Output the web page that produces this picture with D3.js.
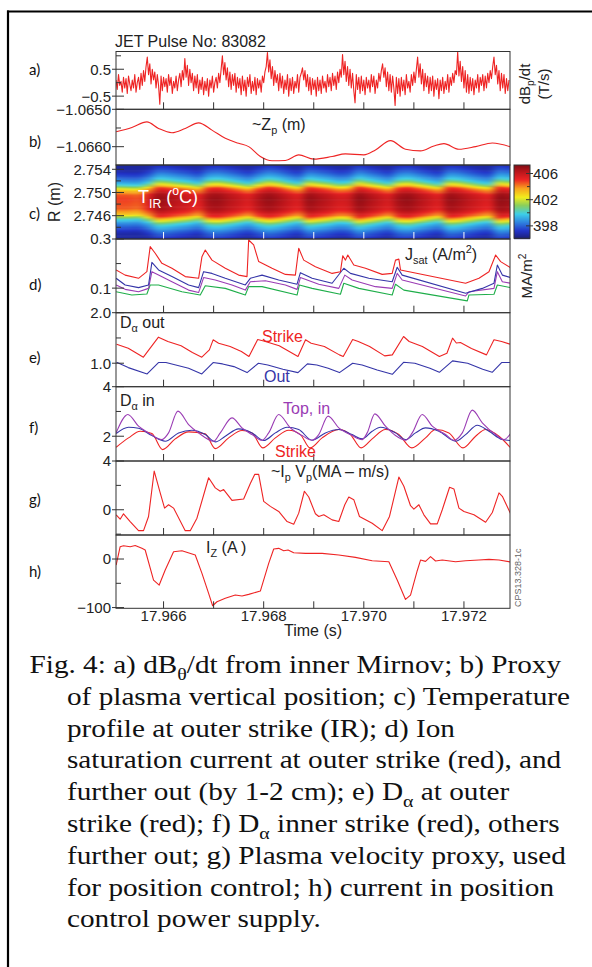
<!DOCTYPE html>
<meta charset="utf-8">
<style>
body { margin: 0; background: #fff; }
svg { display: block; font-family: "Liberation Sans", Arial, sans-serif; }
.tick-label { font-size: 15px; fill: #222; }
.panel-letter { font-family: Lato, "Open Sans", sans-serif; font-size: 15px; fill: #111; }
.caption { font-family: "Liberation Serif", "Times New Roman", serif; font-size: 25px; fill: #111; }
.frame { fill: none; stroke: #333; stroke-width: 1; }
.trace { fill: none; stroke-width: 1.1; stroke-linejoin: round; }
</style>
<svg width="592" height="967"></svg>
<script src="https://cdn.jsdelivr.net/npm/d3@7"></script>
<script>

// time is stored in ms after T0 (seconds)
var T0 = 17.965;
var timeTicksMs = [1, 2, 3, 4, 5, 6, 7];
var timeLabelsMs = [1, 3, 5, 7];

// a) dBp/dt, one value every 0.025 ms from 0.05 ms (one row = 1 ms)
var aStart = 0.05, aStep = 0.025;
var aDbdt = [
  0.1,-0.25,0.3,-0.1,0.05,-0.35,0.2,-0.2,0.15,-0.4,0.25,-0.05,-0.3,0.1,-0.2,0.3,-0.35,0.0,0.2,-0.25,
  0.35,-0.1,0.45,0.05,0.6,0.95,0.3,0.7,-0.05,0.5,0.1,0.4,-0.2,0.3,-0.1,-0.8,0.25,-0.3,0.2,-0.15,
  0.15,-0.35,0.3,-0.1,0.2,-0.4,0.05,-0.2,0.25,-0.3,0.1,0.35,-0.15,0.45,0.1,0.9,0.2,0.65,-0.1,0.5,
  0.0,0.35,-0.3,0.25,-0.2,0.3,-0.4,0.1,-0.25,0.2,-0.45,0.05,-0.3,0.15,-0.5,0.1,-0.2,0.25,-0.35,0.0,
  0.2,-0.2,0.35,0.0,0.5,1.0,0.3,0.75,0.1,0.55,-0.15,0.4,-0.25,0.3,-0.1,0.35,-0.35,0.2,-0.2,0.15,
  -0.45,0.25,-0.3,0.1,-0.5,0.2,-0.15,0.3,-0.4,0.05,-0.3,0.2,-0.45,0.15,-0.2,0.1,-0.35,0.25,0.0,0.4,
  0.6,1.12,0.4,0.85,0.15,0.6,-0.1,0.45,0.0,0.3,-0.3,0.35,-0.2,0.25,-0.4,0.1,-0.25,0.3,-0.5,0.15,
  -0.3,0.2,-0.4,0.05,-0.2,0.3,-0.35,0.2,0.35,0.55,0.1,0.45,-0.15,0.3,-0.3,0.2,-0.45,0.15,-0.25,0.1,
  -0.5,0.2,-0.3,0.1,-0.4,0.25,-0.2,0.05,-0.35,0.3,-0.15,0.2,-0.3,0.35,-0.1,0.25,-0.25,0.4,0.0,0.5,
  0.2,1.05,0.3,0.8,0.05,0.6,-0.1,0.5,-0.2,0.35,-0.3,-0.75,0.3,-0.25,0.2,-0.4,0.25,-0.3,0.1,-0.45,
  0.2,-0.2,0.1,-0.35,0.3,-0.15,0.25,-0.4,0.1,-0.2,0.35,0.05,0.45,0.7,0.2,0.55,-0.15,0.4,-0.3,0.3,
  -0.35,0.25,-0.2,-0.85,0.2,-0.4,0.15,-0.5,0.2,-0.3,0.1,-0.45,0.3,-0.2,0.05,-0.35,0.3,-0.1,0.4,0.0,
  0.5,0.95,0.2,0.7,-0.05,0.5,-0.3,0.35,-0.15,0.25,-0.4,0.2,-0.3,0.25,-0.5,0.1,-0.25,0.15,-0.6,0.1,
  -0.3,0.2,-0.4,0.05,-0.25,0.3,-0.35,0.2,-0.1,0.35,0.0,0.45,0.3,1.15,0.25,0.8,0.05,0.6,-0.2,0.45,
  -0.35,0.3,-0.4,0.2,-0.3,0.15,-0.45,0.1,-0.2,0.3,-0.35,0.2,-0.1,0.3,-0.3,0.25,-0.2,0.35,0.0,0.45,
  0.15,0.6,0.95,0.3,0.65,-0.05,0.45,-0.3,0.35,-0.2,0.3,-0.4,0.15,-0.3,0.1
];

// b) ~Zp (m)
var bZp = [[0.053,-1.065601],[0.367,-1.065486],[0.667,-1.065336],[0.9,-1.065512],[1.167,-1.065627],
  [1.433,-1.065512],[1.7,-1.065362],[1.967,-1.065557],[2.233,-1.065777],[2.5,-1.065910],[2.7,-1.065998],
  [2.933,-1.066263],[3.167,-1.066378],[3.433,-1.066369],[3.7,-1.066219],[4.0,-1.066334],[4.367,-1.066263],
  [4.633,-1.066193],[5.0,-1.066219],[5.233,-1.066087],[5.533,-1.065839],[5.833,-1.066069],[6.133,-1.066113],
  [6.4,-1.065981],[6.6,-1.065919],[6.9,-1.066069],[7.233,-1.065998],[7.567,-1.065901],[7.933,-1.066007]];

// c) IR temperature: one entry per 0.2 ms column
// core temperature, and R of the upper / lower 402 degC (yellow) edge
var tirColStep = 0.2;
var tirCore = [404.8,404.8,404.6,405.5,407.0,406.6,406.2,405.9,405.3,406.8,406.9,406.4,406.0,405.5,406.5,407.0,
  406.6,406.0,405.5,407.0,406.6,406.2,405.7,405.8,407.1,406.6,406.1,405.6,406.8,407.0,406.5,406.0,405.5,407.0,
  406.7,406.2,405.8,405.4,407.1,406.8];
var tirTop = [2.75106,2.7510,2.7510,2.75123,2.75164,2.75158,2.75146,2.75135,2.75117,2.75158,2.75164,2.75152,
  2.75135,2.75117,2.75146,2.7517,2.75158,2.75135,2.75117,2.75164,2.75152,2.75141,2.75123,2.75129,2.7517,2.75152,
  2.75135,2.75117,2.75158,2.75164,2.75146,2.75129,2.75112,2.75164,2.75158,2.75141,2.75123,2.75112,2.7517,2.75158];
var tirBot = [2.74564,2.74564,2.7457,2.74542,2.74502,2.74507,2.74519,2.7453,2.74547,2.74502,2.74496,2.74507,
  2.74524,2.74542,2.74513,2.74496,2.74507,2.74524,2.74542,2.74496,2.74507,2.74519,2.74536,2.7453,2.7449,2.74507,
  2.74524,2.74542,2.74502,2.74496,2.74513,2.7453,2.74547,2.74496,2.74502,2.74519,2.74536,2.74547,2.7449,2.74502];
// radial profile: position relative to band (yellow edges at +-1), fraction between floor and core
var tirFloor = 396.5;
var tirProfPos = [-2.6,-2.0,-1.65,-1.3,-1.15,-1.0,-0.88,-0.75,-0.4,0.2,0.45,0.75,0.88,1.0,1.15,1.3,1.65,2.0,2.6];
var tirProfFrac = [0,0.03,0.14,0.29,0.38,0.52,0.66,0.81,0.96,1.0,0.97,0.81,0.66,0.52,0.38,0.29,0.14,0.03,0];
var cbarTicks = [406, 402, 398];
var cbarMinor = [404, 400];

// d) Jsat (MA/m2)
var dRed = [[0.053,0.174],[0.233,0.153],[0.5,0.140],[0.667,0.167],[0.733,0.269],[0.833,0.242],[0.967,0.201],
  [1.167,0.181],[1.433,0.147],[1.7,0.140],[1.767,0.228],[1.833,0.255],[1.967,0.214],[2.233,0.181],[2.5,0.153],
  [2.667,0.147],[2.7,0.296],[2.8,0.276],[2.9,0.208],[3.167,0.181],[3.433,0.156],[3.633,0.153],[3.7,0.262],
  [3.8,0.214],[4.033,0.187],[4.367,0.160],[4.533,0.167],[4.58,0.232],[4.633,0.214],[4.68,0.235],[4.8,0.194],
  [5.033,0.181],[5.367,0.156],[5.567,0.160],[5.633,0.214],[5.7,0.218],[5.733,0.174],[7.033,0.120],[7.3,0.140],
  [7.5,0.167],[7.633,0.235],[7.733,0.208],[7.933,0.183]];
var dBlue = [[0.053,0.140],[0.233,0.113],[0.5,0.102],[0.7,0.113],[0.767,0.205],[0.9,0.174],[1.167,0.147],
  [1.5,0.113],[1.7,0.102],[1.8,0.167],[1.967,0.160],[2.233,0.140],[2.633,0.113],[2.733,0.140],[2.967,0.153],
  [3.3,0.133],[3.667,0.116],[3.733,0.163],[3.967,0.140],[4.367,0.120],[4.6,0.181],[4.733,0.160],[5.1,0.140],
  [5.567,0.126],[5.667,0.185],[5.767,0.153],[7.033,0.079],[7.367,0.099],[7.6,0.120],[7.667,0.194],[7.767,0.153],
  [7.933,0.143]];
var dPurple = [[0.053,0.113],[0.233,0.095],[0.5,0.085],[0.7,0.099],[0.767,0.167],[0.9,0.153],[1.167,0.126],
  [1.5,0.092],[1.7,0.082],[1.8,0.143],[2.033,0.133],[2.367,0.113],[2.633,0.092],[2.733,0.126],[3.033,0.130],
  [3.433,0.113],[3.667,0.095],[3.733,0.143],[4.1,0.116],[4.5,0.099],[4.62,0.153],[4.767,0.133],[5.233,0.106],
  [5.567,0.099],[5.667,0.160],[5.767,0.133],[7.033,0.068],[7.1,0.085],[7.6,0.099],[7.667,0.167],[7.767,0.126],
  [7.933,0.120]];
var dGreen = [[0.053,0.085],[0.367,0.072],[0.667,0.076],[0.733,0.113],[0.9,0.113],[1.367,0.085],[1.733,0.072],
  [1.833,0.110],[2.233,0.099],[2.633,0.072],[2.7,0.106],[2.967,0.106],[3.667,0.072],[3.713,0.113],[3.967,0.099],
  [4.533,0.075],[4.6,0.120],[4.9,0.099],[5.567,0.072],[5.633,0.116],[5.8,0.092],[7.067,0.048],[7.1,0.072],
  [7.6,0.075],[7.667,0.113],[7.933,0.102]];

// e) D-alpha outer
var eStrike = [[0.062,1.377],[0.295,1.298],[0.597,1.119],[0.898,1.516],[1.086,1.430],[1.35,1.344],[1.576,1.211],
  [1.764,1.119],[1.915,1.264],[1.99,1.463],[2.1,1.397],[2.33,1.331],[2.555,1.231],[2.706,1.132],[2.88,1.47],
  [3.0,1.44],[3.31,1.344],[3.685,1.132],[3.836,1.463],[3.948,1.397],[4.212,1.331],[4.513,1.165],[4.589,1.132],
  [4.777,1.47],[4.89,1.43],[5.116,1.331],[5.417,1.145],[5.569,1.165],[5.794,1.529],[5.906,1.43],[6.17,1.331],
  [6.509,1.132],[6.66,1.198],[6.773,1.496],[6.848,1.40],[6.93,1.41],[7.15,1.29],[7.45,1.165],[7.6,1.463],
  [7.752,1.43],[7.918,1.377]];
var eOut = [[0.062,1.019],[0.295,0.913],[0.672,0.787],[0.898,1.013],[1.048,1.013],[1.5,0.9],[1.764,0.787],
  [1.99,1.013],[2.178,0.986],[2.405,0.933],[2.668,0.814],[2.894,0.999],[3.082,0.966],[3.383,0.88],[3.685,0.814],
  [3.873,0.986],[4.062,0.966],[4.288,0.9],[4.513,0.814],[4.777,0.999],[4.966,0.966],[5.267,0.867],[5.569,0.781],
  [5.794,1.019],[6.02,0.999],[6.321,0.9],[6.509,0.82],[6.773,1.046],[7.074,0.999],[7.375,0.88],[7.564,0.82],
  [7.752,1.013],[7.918,1.013]];

// f) D-alpha inner
var fTop = [[0.053,2.135],[0.287,2.877],[0.5,2.405],[0.7,2.135],[0.967,1.865],[1.1,2.135],[1.287,3.012],[1.5,2.472],
  [1.7,2.135],[2.0,1.798],[2.133,2.135],[2.367,2.742],[2.567,2.337],[2.767,2.067],[2.967,1.838],[3.1,2.135],
  [3.3,2.877],[3.533,2.337],[3.767,2.027],[3.967,1.838],[4.1,2.067],[4.287,2.810],[4.5,2.337],[4.767,2.027],
  [4.967,1.865],[5.067,2.135],[5.22,2.904],[5.433,2.405],[5.633,2.027],[5.833,1.838],[5.967,2.135],[6.167,2.877],
  [6.367,2.405],[6.633,2.067],[6.8,1.838],[6.967,2.135],[7.167,3.053],[7.367,2.540],[7.633,2.067],[7.8,1.865],
  [7.933,2.108]];
var fMid = [[0.053,2.108],[0.3,2.364],[0.5,2.324],[0.767,2.027],[1.033,1.798],[1.3,2.135],[1.567,2.243],[1.833,2.067],
  [2.033,1.771],[2.233,2.0],[2.5,2.297],[2.767,2.135],[3.0,1.825],[3.233,2.135],[3.467,2.364],[3.7,2.27],
  [3.967,1.838],[4.233,2.135],[4.5,2.27],[4.767,2.067],[4.967,1.892],[5.167,2.202],[5.333,2.364],[5.633,2.135],
  [5.833,1.865],[6.033,2.135],[6.233,2.337],[6.5,2.202],[6.833,1.798],[7.033,2.067],[7.267,2.445],[7.5,2.202],
  [7.767,1.865],[7.933,1.825]];
var fStrike = [[0.053,1.556],[0.3,1.933],[0.533,2.202],[0.767,2.108],[0.98,1.46],[1.233,1.892],[1.5,2.175],
  [1.833,2.094],[2.033,1.50],[2.3,1.933],[2.567,2.229],[2.767,2.135],[2.98,1.528],[3.233,1.933],[3.5,2.243],
  [3.733,2.067],[3.927,1.528],[4.167,1.933],[4.5,2.27],[4.733,2.067],[4.947,1.528],[5.167,1.892],[5.433,2.27],
  [5.7,2.067],[5.96,1.528],[6.233,1.933],[6.433,2.27],[6.7,2.135],[6.98,1.528],[7.233,2.0],[7.433,2.27],
  [7.7,2.0],[7.933,1.528]];

// g) ~Ip Vp
var gIpVp = [[0.053,-0.414],[0.133,-0.773],[0.2,-0.331],[0.333,-0.966],[0.5,-1.712],[0.6,-1.712],[0.7,-0.552],
  [0.813,3.176],[0.933,1.381],[1.02,0.138],[1.1,0.414],[1.2,0.138],[1.433,-1.712],[1.533,-1.712],[1.667,-0.69],
  [1.9,2.624],[2.033,1.795],[2.133,1.519],[2.2,1.657],[2.367,0.773],[2.6,0.884],[2.733,2.154],[2.82,2.9],
  [2.9,2.9],[3.0,0.69],[3.133,0.276],[3.3,-0.138],[3.467,-0.966],[3.6,-1.187],[3.7,-0.276],[3.813,1.519],
  [3.9,1.05],[4.033,-0.331],[4.1,-0.552],[4.2,-0.414],[4.367,-0.829],[4.5,-0.966],[4.62,0.414],[4.7,1.05],
  [4.8,0.829],[4.913,-0.552],[5.167,-1.105],[5.367,-1.712],[5.513,-0.552],[5.7,2.679],[5.8,1.933],[5.933,0.331],
  [6.0,0.055],[6.1,0.414],[6.2,-0.414],[6.333,-1.16],[6.467,-1.16],[6.567,0.0],[6.713,1.85],[6.8,1.712],
  [6.9,0.138],[7.0,-0.138],[7.2,-0.414],[7.433,-1.022],[7.567,-0.221],[7.7,1.381],[7.767,1.105],[7.933,-0.331]];

// h) Iz (A)
var hIz = [[0.053,-12.4],[0.133,25.4],[0.2,27.5],[0.333,25.4],[0.433,27.8],[0.567,22],[0.633,18.6],[0.8,-43.3],
  [0.913,-53.6],[1.033,-22.7],[1.2,15.1],[1.367,17.2],[1.633,8.2],[1.767,-29.6],[1.9,-70.8],[1.98,-96.2],
  [2.067,-88],[2.233,-81],[2.433,-74.2],[2.567,-76],[2.7,-72.8],[2.933,-66],[3.1,-8.9],[3.2,20.6],[3.3,22],
  [3.4,17.2],[3.487,18.6],[3.6,13],[3.833,11.7],[4.167,11.7],[4.5,8.2],[4.833,3.4],[5.167,-3.4],[5.5,-5.5],
  [5.667,-43.3],[5.833,-83.2],[5.933,-74.2],[6.067,-24.1],[6.133,-2.1],[6.233,-4.8],[6.333,4.8],[6.433,-4.1],
  [6.567,-2.1],[6.833,-5.5],[7.033,-3.4],[7.3,-2.1],[7.5,-0.7],[7.7,-2.1],[7.933,-6.2]];

var captionLines = [
  "Fig. 4: a) dB_{θ}/dt from inner Mirnov; b) Proxy",
  "of plasma vertical position; c) Temperature",
  "profile at outer strike (IR); d) Ion",
  "saturation current at outer strike (red), and",
  "further out (by 1-2 cm); e) D_{α} at outer",
  "strike (red); f) D_{α} inner strike (red), others",
  "further out; g) Plasma velocity proxy, used",
  "for position control; h) current in position",
  "control power supply."
];

var RED = "#ee2424", BLUE = "#3535a8", PURPLE = "#9a3cb4", GREEN = "#1fae4a";

var svg = d3.select("svg");

var x = d3.scaleLinear().domain([17.96505, 17.97292]).range([116, 510]);
function tx(ms) { return x(T0 + ms / 1000); }

var panels = [
  {key: "a", top: 51.5, bottom: 109.3, domain: [-0.99, 1.16], major: [0.5, -0.5], minor: [1.0, 0], fmt: ".1f", ly: 75},
  {key: "b", top: 109.3, bottom: 165, domain: [-1.06649, -1.0650], major: [-1.0650, -1.0660], minor: [-1.0655], fmt: ".4f", ly: 147},
  {key: "c", top: 165, bottom: 239, domain: [2.74198, 2.75474], major: [2.754, 2.750, 2.746], minor: [2.752, 2.748, 2.744], fmt: ".3f", ly: 219},
  {key: "d", top: 239, bottom: 312.7, domain: [0, 0.3], major: [0.3, 0.1], minor: [0.2], fmt: ".1f", ly: 290},
  {key: "e", top: 312.7, bottom: 386.7, domain: [0.535, 2.0], major: [2.0, 1.0], minor: [1.5], fmt: ".1f", ly: 363},
  {key: "f", top: 386.7, bottom: 461, domain: [1.0, 4.0], major: [4, 2], minor: [3], fmt: "d", ly: 433},
  {key: "g", top: 461, bottom: 535, domain: [-2.07, 4], major: [4, 0], minor: [2, -2], fmt: "d", ly: 505},
  {key: "h", top: 535, bottom: 608.3, domain: [-101.5, 49.5], major: [0, -100], minor: [-50], fmt: "d", ly: 577}
];
panels.forEach(function(p) {
  p.y = d3.scaleLinear().domain(p.domain).range([p.bottom, p.top]);
});
var P = {};
panels.forEach(function(p) { P[p.key] = p; });

// text with _{sub} and ^{sup}
function rich(sel, str, fs) {
  var parts = str.split(/(_\{[^}]*\}|\^\{[^}]*\})/).filter(function(s) { return s.length; });
  var shift = 0;
  parts.forEach(function(part) {
    var off = 0, txt = part, small = false;
    if (part[0] === "_" && part[1] === "{") { txt = part.slice(2, -1); off = 0.28 * fs; small = true; }
    else if (part[0] === "^" && part[1] === "{") { txt = part.slice(2, -1); off = -0.42 * fs; small = true; }
    var t = sel.append("tspan").text(txt).attr("dy", off - shift);
    if (small) t.attr("font-size", (0.68 * fs) + "px");
    shift = off;
  });
  return sel;
}
function label(str, xx, yy, fs, color, anchor, rotate) {
  var t = svg.append("text")
      .attr("font-size", fs + "px")
      .attr("fill", color || "#222")
      .attr("text-anchor", anchor || "start");
  if (rotate) t.attr("transform", "translate(" + xx + "," + yy + ") rotate(-90)");
  else t.attr("x", xx).attr("y", yy);
  return rich(t, str, fs);
}

var defs = svg.append("defs");
panels.forEach(function(p) {
  defs.append("clipPath").attr("id", "clip-" + p.key)
    .append("rect").attr("x", 116).attr("y", p.top).attr("width", 394).attr("height", p.bottom - p.top);
});
defs.append("filter").attr("id", "smear").attr("color-interpolation-filters", "sRGB")
  .attr("x", "-5%").attr("y", "-5%").attr("width", "110%").attr("height", "110%")
  .append("feGaussianBlur").attr("stdDeviation", "4.5 0.6");

// outer border
svg.append("line").attr("x1", 7).attr("x2", 592).attr("y1", 11.5).attr("y2", 11.5).attr("stroke", "#000").attr("stroke-width", 2.2);
svg.append("line").attr("x1", 8).attr("x2", 8).attr("y1", 10.5).attr("y2", 967).attr("stroke", "#000").attr("stroke-width", 2.2);

// jet-like colour map
var tLo = 396.1, tHi = 407.3;
var jetPos = [0, 0.1, 0.22, 0.33, 0.45, 0.56, 0.68, 0.8, 0.92, 1];
var jetCol = ["#1b1f7a", "#2233c8", "#2f86e0", "#3dcfe8", "#8ccf5a", "#f2ec1c", "#f7a21e", "#ec2424", "#b3141a", "#7e0c14"];
var color = d3.scaleLinear()
    .domain(jetPos.map(function(f) { return tLo + f * (tHi - tLo); }))
    .range(jetCol).clamp(true);

// c) heatmap
var prof = d3.scaleLinear().domain(tirProfPos).range(tirProfFrac).clamp(true);
var yc = P.c.y;
var rStep = 0.0002;
var rows = d3.range(2.7404, 2.7562, rStep);
var cells = [];
tirCore.forEach(function(core, i) {
  var mid = (tirTop[i] + tirBot[i]) / 2, hw = (tirTop[i] - tirBot[i]) / 2;
  rows.forEach(function(r) {
    var rc = r + rStep / 2;
    cells.push({i: i, r: r, v: tirFloor + (core - tirFloor) * prof((rc - mid) / hw)});
  });
});
var hm = svg.append("g").attr("clip-path", "url(#clip-c)").append("g").attr("filter", "url(#smear)");
hm.selectAll("rect").data(cells).enter().append("rect")
    .attr("x", function(d) { return tx(d.i * tirColStep) - (d.i === 0 ? 14 : 0); })
    .attr("width", function(d) {
      var w = tx((d.i + 1) * tirColStep) - tx(d.i * tirColStep) + 0.6;
      return w + (d.i === 0 ? 14 : 0) + (d.i === tirCore.length - 1 ? 14 : 0);
    })
    .attr("y", function(d) { return yc(d.r + rStep) - 0.3; })
    .attr("height", function(d) { return yc(d.r) - yc(d.r + rStep) + 0.6; })
    .attr("fill", function(d) { return color(d.v); });

label("T_{IR} (^{o}C)", 138, 203, 18, "#fff");

// colour bar
var cb = d3.scaleLinear().domain([tLo, tHi]).range([238.3, 165]);
svg.append("g").selectAll("rect").data(d3.range(165, 238.3, 1)).enter().append("rect")
    .attr("x", 514).attr("width", 16)
    .attr("y", function(d) { return d; }).attr("height", 1.2)
    .attr("fill", function(d) { return color(cb.invert(d + 0.5)); });
svg.append("rect").attr("class", "frame").attr("x", 514).attr("y", 165).attr("width", 16).attr("height", 73.3);
cbarTicks.forEach(function(v) {
  svg.append("line").attr("x1", 526).attr("x2", 533).attr("y1", cb(v)).attr("y2", cb(v)).attr("stroke", "#333");
  svg.append("text").attr("class", "tick-label").attr("font-size", "17px").attr("x", 533).attr("y", cb(v)).attr("dy", "0.36em").text(v);
});
cbarMinor.forEach(function(v) {
  svg.append("line").attr("x1", 527).attr("x2", 530).attr("y1", cb(v)).attr("y2", cb(v)).attr("stroke", "#333");
});

// traces
function trace(p, data, col, curve, width) {
  var line = d3.line()
      .x(function(d) { return tx(d[0]); })
      .y(function(d) { return p.y(d[1]); })
      .curve(curve || d3.curveLinear);
  svg.append("path").datum(data)
      .attr("class", "trace")
      .attr("clip-path", "url(#clip-" + p.key + ")")
      .attr("stroke", col)
      .attr("stroke-width", width || 1.1)
      .attr("d", line);
}
trace(P.a, aDbdt.map(function(v, i) { return [aStart + i * aStep, v]; }), RED, null, 1.0);
trace(P.b, bZp, RED, d3.curveMonotoneX);
trace(P.d, dGreen, GREEN);
trace(P.d, dPurple, PURPLE);
trace(P.d, dBlue, BLUE);
trace(P.d, dRed, RED);
trace(P.e, eOut, BLUE);
trace(P.e, eStrike, RED);
trace(P.f, fStrike, RED, d3.curveMonotoneX);
trace(P.f, fMid, BLUE, d3.curveMonotoneX);
trace(P.f, fTop, PURPLE, d3.curveMonotoneX);
trace(P.g, gIpVp, RED);
trace(P.h, hIz, RED);

// frames, ticks, labels
panels.forEach(function(p) {
  svg.append("rect").attr("class", "frame")
      .attr("x", 116).attr("y", p.top).attr("width", 394).attr("height", p.bottom - p.top);
  var tickCol = p.key === "c" ? "#fff" : "#333";
  timeTicksMs.forEach(function(ms) {
    svg.append("line").attr("x1", tx(ms)).attr("x2", tx(ms))
        .attr("y1", p.bottom).attr("y2", p.bottom - 7)
        .attr("stroke", tickCol);
  });
  var f = d3.format(p.fmt);
  p.major.forEach(function(v) {
    svg.append("line").attr("x1", 112).attr("x2", 124).attr("y1", p.y(v)).attr("y2", p.y(v)).attr("stroke", "#333");
    svg.append("text").attr("class", "tick-label")
        .attr("x", 111).attr("y", p.y(v)).attr("dy", "0.36em").attr("text-anchor", "end")
        .text(f(v));
  });
  p.minor.forEach(function(v) {
    svg.append("line").attr("x1", 116).attr("x2", 121).attr("y1", p.y(v)).attr("y2", p.y(v)).attr("stroke", "#333");
  });
  svg.append("text").attr("class", "panel-letter").attr("x", 29).attr("y", p.ly).text(p.key + ")");
});

timeLabelsMs.forEach(function(ms) {
  svg.append("text").attr("class", "tick-label").attr("font-size", "16px")
      .attr("x", tx(ms)).attr("y", 621).attr("text-anchor", "middle")
      .text((T0 + ms / 1000).toFixed(3));
});

// titles and annotations
label("JET Pulse No: 83082", 115, 47, 16);
label("Time (s)", 313, 636, 16, "#222", "middle");
label("R (m)", 60, 202, 16, "#222", "middle", true);
label("dB_{p}/dt", 530, 84, 15, "#222", "middle", true);
label("(T/s)", 549, 84, 15, "#222", "middle", true);
label("MA/m^{2}", 532, 276, 15, "#222", "middle", true);
label("~Z_{p} (m)", 252, 130, 16);
label("J_{sat} (A/m^{2})", 405, 260, 16);
label("D_{α} out", 120, 328, 16);
label("Strike", 262, 342, 16, RED);
label("Out", 264, 382, 16, BLUE);
label("D_{α} in", 120, 406, 16);
label("Top, in", 283, 414, 16, PURPLE);
label("Strike", 275, 457, 16, RED);
label("~I_{p} V_{p}(MA – m/s)", 271, 477, 16);
label("I_{Z} (A )", 206, 553, 16);
label("CPS13.328-1c", 521, 607, 9, "#666", "start", true);

// caption (the source figure is stretched horizontally)
captionLines.forEach(function(s, i) {
  var t = svg.append("text").attr("class", "caption")
      .attr("transform", "translate(" + (i === 0 ? 29.5 : 67) + "," + (673 + i * 31.8) + ") scale(1.17,1)");
  rich(t, s, 25);
});

</script>
